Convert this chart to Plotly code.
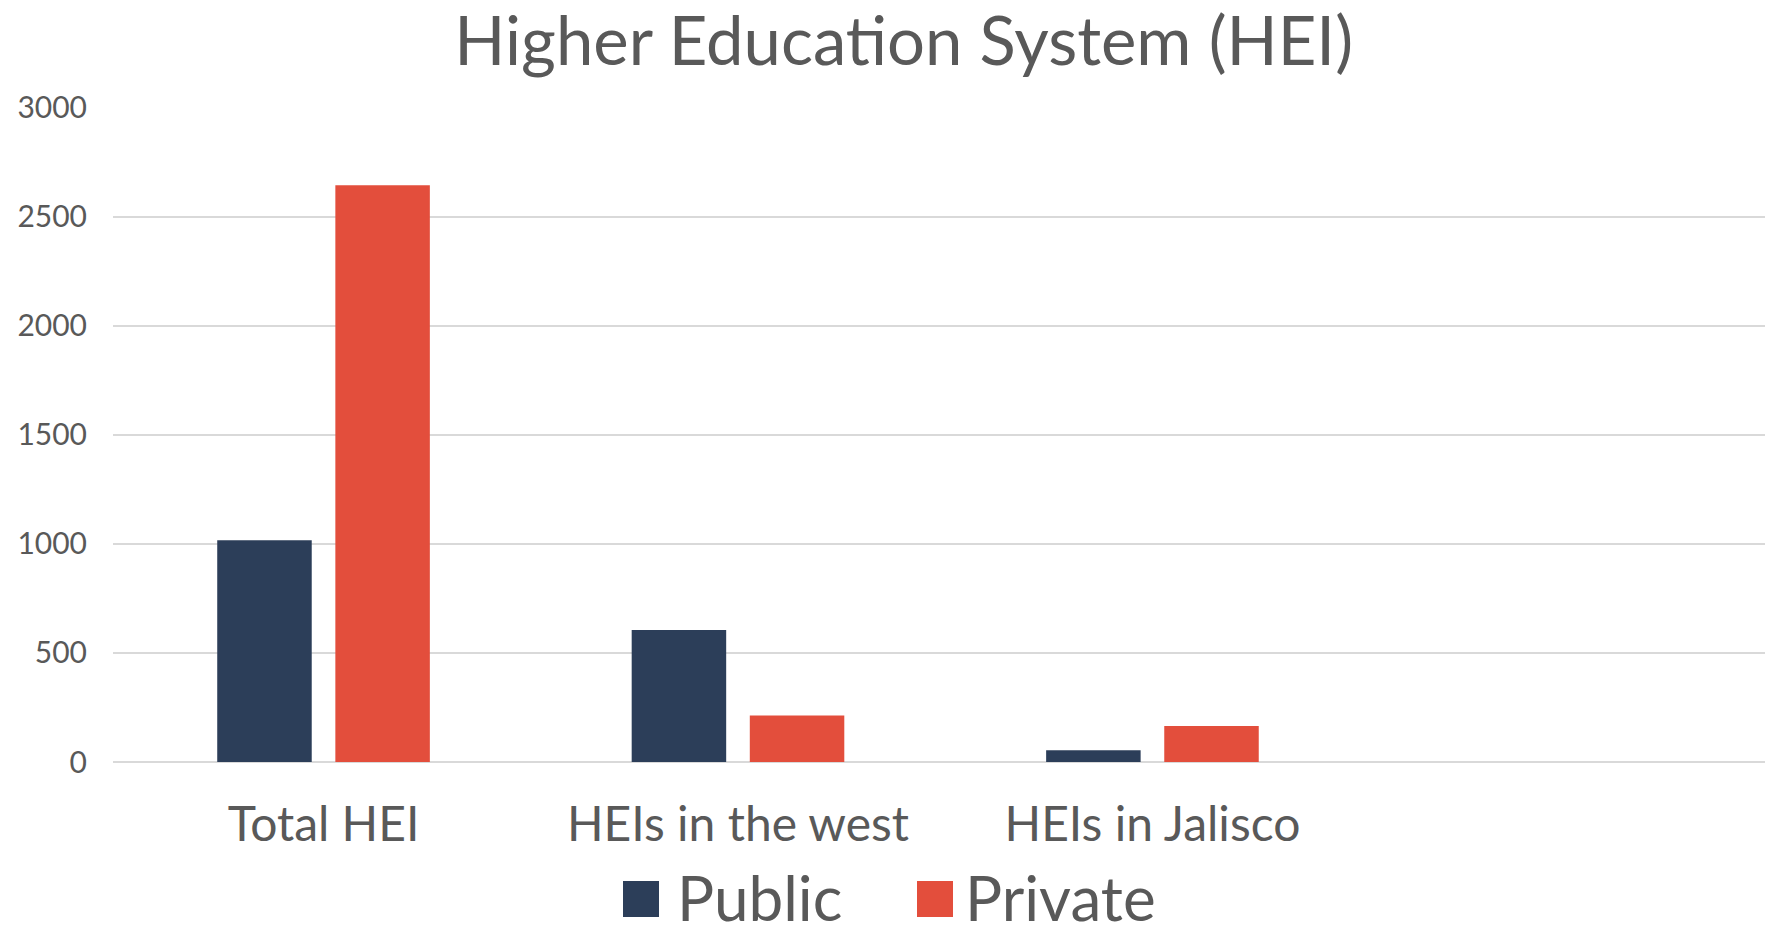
import plotly.graph_objects as go

categories = ["Total HEI", "HEIs in the west", "HEIs in Jalisco"]
public_vals = [1016, 605, 54]
private_vals = [2643, 213, 165]
series_names = ["Public", "Private"]
y_ticks = [0, 500, 1000, 1500, 2000, 2500, 3000]

C_PUB = "#2C3E59"
C_PRI = "#E34E3C"
TXT = "#595959"
FONT = "Lato"

W, H = 1765, 936
ML, MR, MT, MB = 113, 0, 107, 174
PW = W - ML - MR
PH = H - MT - MB

fig = go.Figure()
fig.add_trace(go.Bar(x=categories, y=public_vals, name=series_names[0],
                     marker=dict(color=C_PUB, line=dict(width=0)), showlegend=False))
fig.add_trace(go.Bar(x=categories, y=private_vals, name=series_names[1],
                     marker=dict(color=C_PRI, line=dict(width=0)), showlegend=False))

def px_x(x):
    return (x - ML) / PW

def px_y(y):
    return (H - MB - y) / PH

# manual legend (large square keys)
legend_items = [(series_names[0], C_PUB, 623, 680), (series_names[1], C_PRI, 917, 968)]
for name, col, sx, tx in legend_items:
    fig.add_shape(type="rect", xref="paper", yref="paper",
                  x0=px_x(sx), x1=px_x(sx + 36), y0=px_y(917), y1=px_y(881),
                  fillcolor=col, line=dict(width=0))
    fig.add_annotation(text=name, xref="paper", yref="paper",
                       x=px_x(tx - 4), y=px_y(935), xanchor="left", yanchor="bottom",
                       borderpad=0, showarrow=False,
                       font=dict(family=FONT, size=62, color=TXT))

fig.update_layout(
    width=W, height=H,
    margin=dict(l=ML, r=MR, t=MT, b=MB),
    paper_bgcolor="white", plot_bgcolor="white",
    barmode="group", bargap=0.43, bargroupgap=0.2,
    title=dict(text="Higher Education System (HEI)", x=0.512, xref="container",
               xanchor="center", y=0.981, yref="container", yanchor="top",
               font=dict(family=FONT, size=67, color=TXT)),
    font=dict(family=FONT, color=TXT),
    xaxis=dict(type="category", range=[-0.508, 3.478], showgrid=False, zeroline=False,
               showline=False, ticks="", tickfont=dict(family=FONT, size=48, color=TXT),
               ticklabelstandoff=30),
    yaxis=dict(range=[0, 3002], tickvals=y_ticks, showgrid=True, gridcolor="#D9D9D9",
               gridwidth=1.5, zeroline=True, zerolinecolor="#D9D9D9", zerolinewidth=1.5,
               showline=False, ticks="", tickfont=dict(family=FONT, size=30, color=TXT),
               ticklabelstandoff=25),
)

fig.write_html("out.html", config={"displayModeBar": False},
               post_script="document.body.style.margin='0';document.body.style.overflow='hidden';")
